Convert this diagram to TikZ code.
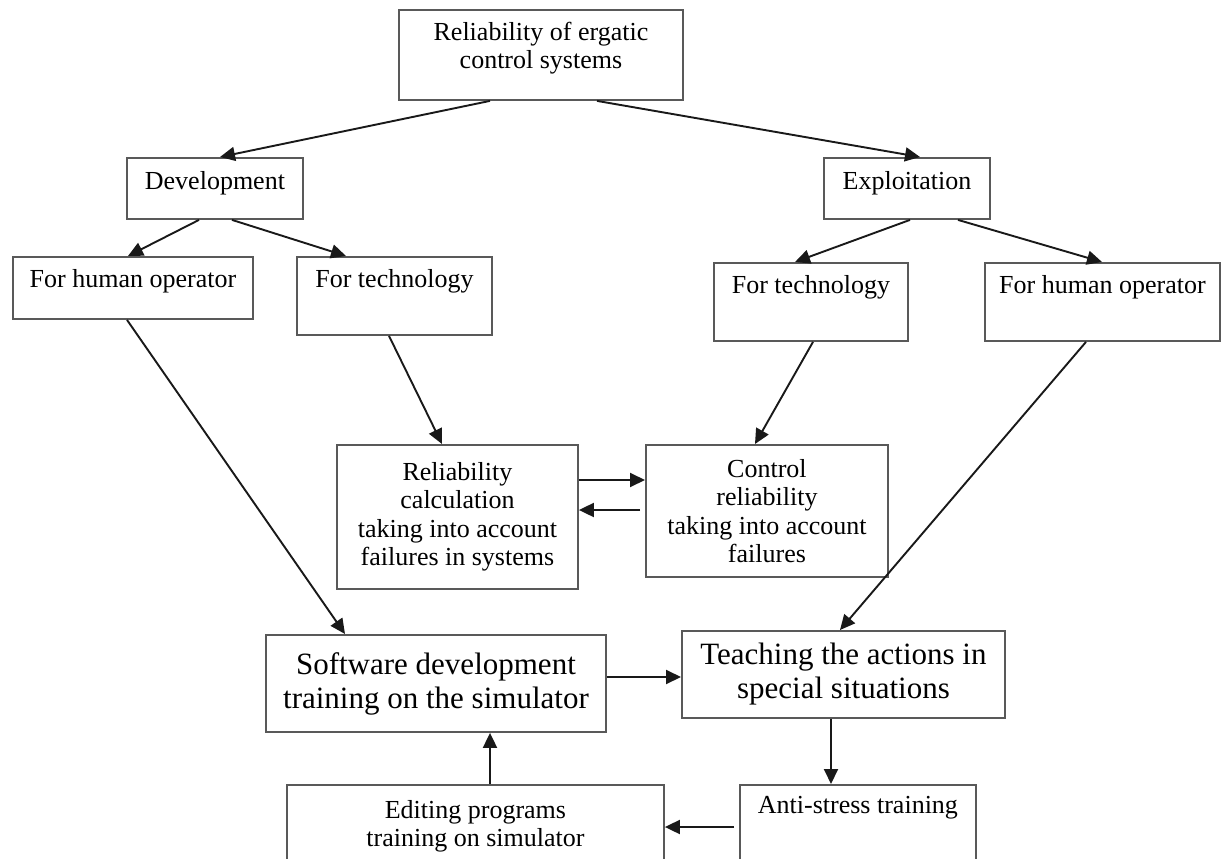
\documentclass[tikz,border=0pt]{standalone}
\usepackage{fontspec}
\setmainfont{Liberation Serif}
\usetikzlibrary{arrows.meta}
\begin{document}
\begin{tikzpicture}[x=1pt,y=-1pt,
  box/.style={draw=black!65, line width=1.9pt, inner sep=0pt, anchor=north west, font=\fontsize{26}{28.5}\selectfont},
  multi/.style={align=center},
  big/.style={font=\fontsize{31}{34}\selectfont},
  arr/.style={draw=black!90, line width=1.9pt, -{Triangle[length=15pt,width=14pt]}},
]
\clip (0,0) rectangle (1221,859);
\fill[white] (0,0) rectangle (1221,859);
% boxes
\node[box, multi, minimum width=284pt, text height=59pt, text depth=31pt, font=\fontsize{26}{28}\selectfont] (top) at (398,9) {Reliability of ergatic\\control systems};
\node[box, minimum width=176pt, text height=32pt, text depth=29pt] (dev) at (126,157) {Development};
\node[box, minimum width=166pt, text height=32pt, text depth=29pt] (expl) at (823,157) {Exploitation};
\node[box, minimum width=240pt, text height=31pt, text depth=31pt] (hum1) at (12,256) {For human operator};
\node[box, minimum width=195pt, text height=31pt, text depth=47pt] (tech1) at (296,256) {For technology};
\node[box, minimum width=194pt, text height=31pt, text depth=47pt] (tech2) at (713,262) {For technology};
\node[box, minimum width=235pt, text height=31pt, text depth=47pt] (hum2) at (984,262) {For human operator};
\node[box, multi, minimum width=241pt, minimum height=144pt] (calc) at (336,444) {Reliability\\calculation\\taking into account\\failures in systems};
\node[box, multi, minimum width=242pt, minimum height=132pt] (ctrl) at (645,444) {Control\\reliability\\taking into account\\failures};
\node[box, multi, big, minimum width=340pt, minimum height=97pt] (soft) at (265,634) {Software development\\training on the simulator};
\node[box, multi, big, minimum width=323pt, minimum height=87pt] (teach) at (681,630) {Teaching the actions in\\special situations};
\node[box, minimum width=236pt, text height=29pt, text depth=61pt] (anti) at (739,784) {Anti-stress training};
\node[box, multi, minimum width=377pt, minimum height=82pt, font=\fontsize{26}{28}\selectfont] (edit) at (286,784) {Editing programs\\training on simulator};
% connectors
\draw[arr] ([xshift=92pt]top.south west) -- ([xshift=94pt]dev.north west);
\draw[arr] ([xshift=199pt]top.south west) -- ([xshift=97pt]expl.north west);
\draw[arr] ([xshift=73pt]dev.south west) -- ([xshift=116pt]hum1.north west);
\draw[arr] ([xshift=106pt]dev.south west) -- ([xshift=50pt]tech1.north west);
\draw[arr] ([xshift=87pt]expl.south west) -- ([xshift=82pt]tech2.north west);
\draw[arr] ([xshift=135pt]expl.south west) -- ([xshift=118pt]hum2.north west);
\draw[arr] ([xshift=115pt]hum1.south west) -- ([xshift=80pt]soft.north west);
\draw[arr] ([xshift=93pt]tech1.south west) -- ([xshift=106pt]calc.north west);
\draw[arr] ([xshift=100pt]tech2.south west) -- ([xshift=110pt]ctrl.north west);
\draw[arr] ([xshift=102pt]hum2.south west) -- ([xshift=159pt]teach.north west);
\draw[arr] ([yshift=-36pt]calc.north east) -- ([yshift=-36pt]ctrl.north west);
\draw[arr] ([xshift=-5pt,yshift=-66pt]ctrl.north west) -- ([yshift=-66pt]calc.north east);
\draw[arr] ([yshift=-43pt]soft.north east) -- ([yshift=-47pt]teach.north west);
\draw[arr] ([xshift=150pt]teach.south west) -- ([xshift=92pt]anti.north west);
\draw[arr] ([xshift=-5pt,yshift=-43pt]anti.north west) -- ([yshift=-43pt]edit.north east);
\draw[arr] ([xshift=204pt]edit.north west) -- ([xshift=225pt]soft.south west);
\end{tikzpicture}
\end{document}
